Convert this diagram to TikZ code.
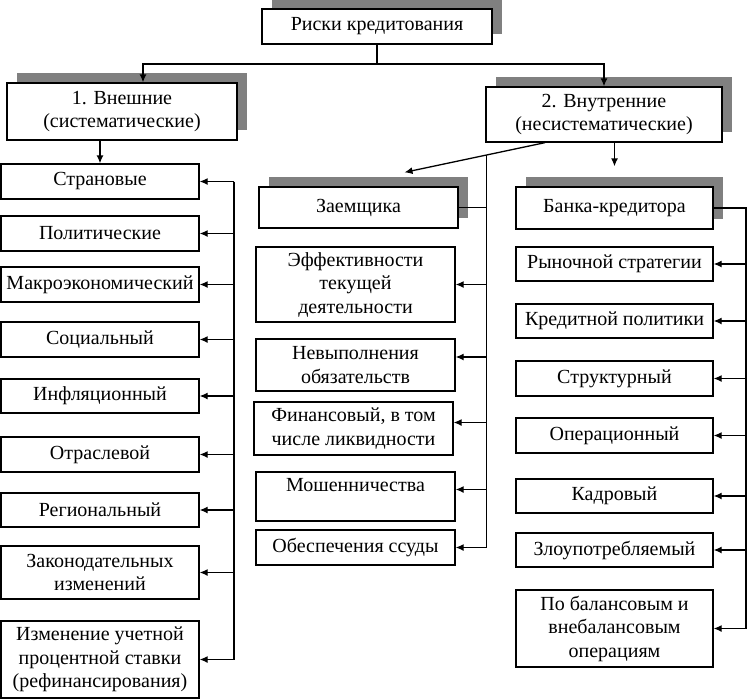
\documentclass[tikz,border=0pt]{standalone}
\usepackage{fontspec}
\setmainfont{Liberation Serif}
\usetikzlibrary{arrows.meta, shadows, calc}

\begin{document}
\begin{tikzpicture}[x=1pt, y=-1pt,
		riskbox/.style={draw, fill=white, line width=1.3pt, align=center, inner sep=1pt,
			font=\fontsize{20}{23.5}\selectfont},
		shadowbox/.style={riskbox, drop shadow={shadow xshift=10pt, shadow yshift=10pt,
				fill=black!50, opacity=1}},
		link/.style={line width=1.3pt},
		feed/.style={link, -{Latex[length=8pt, width=7pt]}}]
	\useasboundingbox (0,0) rectangle (747,699);
	% top level
	\node[shadowbox, minimum width=230pt, minimum height=35pt] (riski) at (377,26.5) {Риски кредитования};
	\node[shadowbox, minimum width=230pt, minimum height=57pt] (vnesh) at (122,111.5) {1. Внешние\\(систематические)};
	\node[shadowbox, minimum width=236pt, minimum height=55pt] (vnutr) at (604,114.5) {2. Внутренние\\(несистематические)};
	\coordinate (fork) at (377,64);
	\draw[link] (riski.south) -- (fork);
	\draw[feed] (fork) -| ([xshift=21pt]vnesh.north);
	\draw[feed] (fork) -| (vnutr.north);
	% left column: external risks
	\begin{scope}[every node/.append style={riskbox, minimum width=198pt}]
		\node[minimum height=35pt] (stran) at (100,181.5) {Страновые};
		\node[minimum height=35pt] (polit) at (100,233.5) {Политические};
		\node[minimum height=35pt] (makro) at (100,284.5) {Макроэкономический};
		\node[minimum height=35pt] (social) at (100,339.5) {Социальный};
		\node[minimum height=34pt] (infl) at (100,396) {Инфляционный};
		\node[minimum height=35pt] (otrasl) at (100,454.5) {Отраслевой};
		\node[minimum height=34pt] (region) at (100,510) {Региональный};
		\node[minimum height=53pt] (zakon) at (100,572.5) {Законодательных\\изменений};
		\node[minimum height=77pt] (izmen) at (100,659.5) {Изменение учетной\\процентной ставки\\(рефинансирования)};
	\end{scope}
	\draw[feed] (vnesh.south -| stran.north) -- (stran.north);
	\coordinate (lbus) at (234,0);
	\draw[link] (stran.east -| lbus) -- (izmen.east -| lbus);
	\foreach \n in {stran,polit,makro,social,infl,otrasl,region,zakon,izmen}
	\draw[feed] (\n.east -| lbus) -- (\n.east);
	% middle column: borrower
	\node[shadowbox, minimum width=199pt, minimum height=41pt] (zaem) at (358.5,207.5) {Заемщика};
	\begin{scope}[every node/.append style={riskbox, minimum width=199pt}]
		\node[minimum height=75pt] (effekt) at (355.5,284.5) {Эффективности\\текущей\\деятельности};
		\node[minimum height=52pt] (nevyp) at (355.5,365) {Невыполнения\\обязательств};
		\node[minimum height=53pt] (finans) at (353.5,428.5) {Финансовый, в том\\числе ликвидности};
		\node[minimum height=49pt] (moshen) at (355.5,496.5) {Мошенничества\\\mbox{}};
		\node[minimum height=35pt] (obesp) at (355.5,547.5) {Обеспечения ссуды};
	\end{scope}
	\coordinate (dstart) at ([xshift=-59pt]vnutr.south);
	\coordinate (dend) at ([xshift=46pt, yshift=14pt]zaem.north);
	\draw[feed] (dstart) -- (dend);
	\coordinate (mbus) at ($(dstart)!0.414!(dend)$);
	\draw[link] (mbus) -- (mbus |- obesp.east);
	\draw[link] (zaem.east) -- (zaem.east -| mbus);
	\draw[feed] (effekt.east -| mbus) -- (effekt.east);
	\draw[feed] ([yshift=8pt]nevyp.east -| mbus) -- ([yshift=8pt]nevyp.east);
	\draw[feed] ([yshift=6pt]finans.east -| mbus) -- ([yshift=6pt]finans.east);
	\draw[feed] ([yshift=7pt]moshen.east -| mbus) -- ([yshift=7pt]moshen.east);
	\draw[feed] (obesp.east -| mbus) -- (obesp.east);
	% right column: lending bank
	\node[shadowbox, minimum width=197pt, minimum height=42pt] (banka) at (614.5,208) {Банка-кредитора};
	\draw[feed] (vnutr.south -| banka.north) -- ([yshift=20pt]banka.north);
	\begin{scope}[every node/.append style={riskbox, minimum width=197pt}]
		\node[minimum height=34pt] (rynoch) at (614.5,264) {Рыночной стратегии};
		\node[minimum height=34pt] (kredit) at (614.5,321) {Кредитной политики};
		\node[minimum height=35pt] (strukt) at (614.5,378.5) {Структурный};
		\node[minimum height=35pt] (operac) at (614.5,435.5) {Операционный};
		\node[minimum height=34pt] (kadr) at (614.5,496) {Кадровый};
		\node[minimum height=34pt] (zloup) at (614.5,550) {Злоупотребляемый};
		\node[minimum height=77pt] (balans) at (614.5,628.5) {По балансовым и\\внебалансовым\\операциям};
	\end{scope}
	\coordinate (rbus) at (746,0);
	\draw[link] (banka.east) -- (banka.east -| rbus) -- (balans.east -| rbus);
	\foreach \n in {rynoch,kredit,strukt,operac,kadr,zloup,balans}
	\draw[feed] (\n.east -| rbus) -- (\n.east);
\end{tikzpicture}
\end{document}
